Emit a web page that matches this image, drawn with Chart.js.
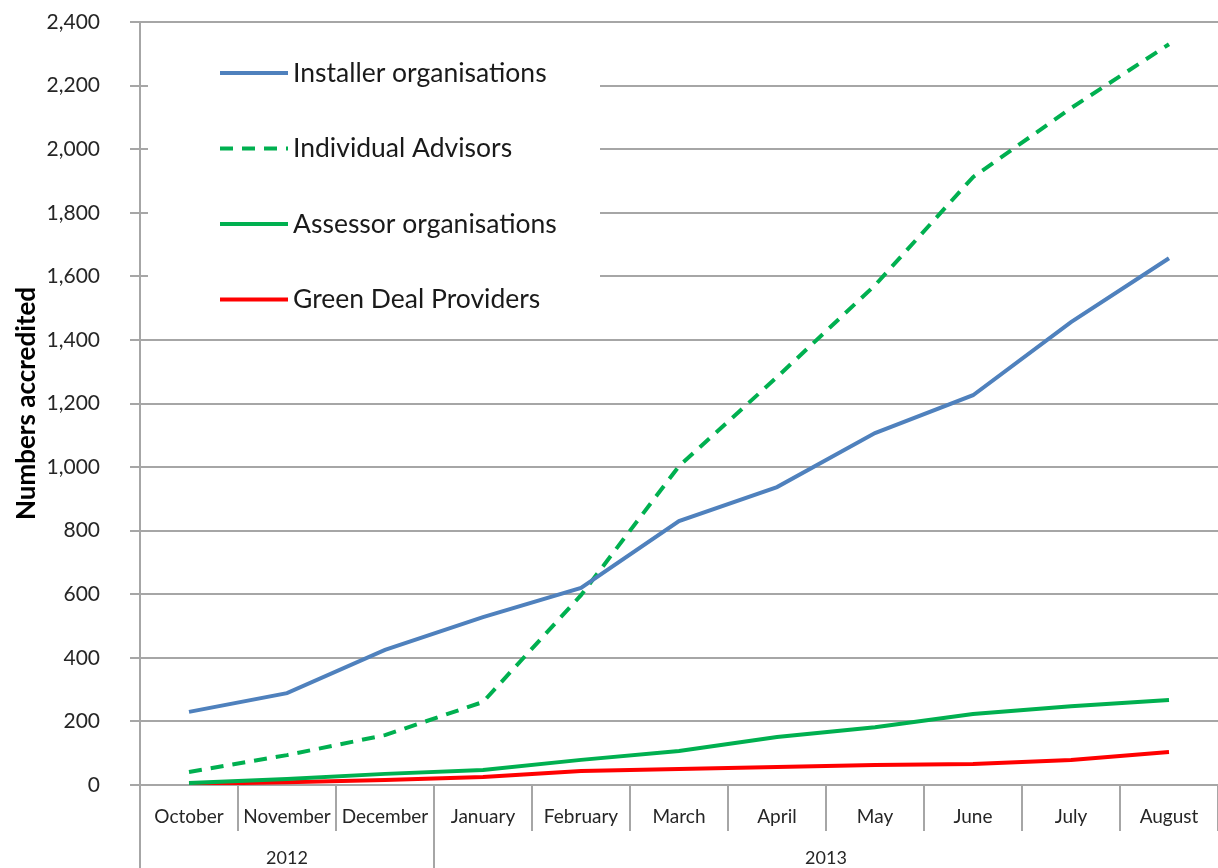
<!DOCTYPE html>
<html>
<head>
<meta charset="utf-8">
<script src="https://cdn.jsdelivr.net/npm/chart.js@4/dist/chart.umd.min.js"></script>
<style>
  html, body { margin: 0; padding: 0; background: #fff; }
  #wrap { width: 1218px; height: 868px; }
</style>
</head>
<body>
<div id="wrap"><canvas id="chart" width="1218" height="868"></canvas></div>
<script>
// months and year groups
const months = ['October', 'November', 'December', 'January', 'February', 'March', 'April', 'May', 'June', 'July', 'August'];
const years = [{ label: '2012', from: 0, to: 2 }, { label: '2013', from: 3, to: 10 }];

// numbers accredited
const installers = [230, 289, 425, 528, 620, 830, 937, 1107, 1226, 1456, 1657];
const advisors = [41, 94, 157, 261, 597, 1003, 1283, 1572, 1912, 2129, 2330];
const assessors = [6, 19, 35, 47, 79, 107, 151, 182, 223, 248, 267];
const providers = [3, 9, 16, 25, 44, 50, 57, 63, 66, 79, 104];

const gridColor = '#a6a6a6';
const textColor = '#262626';
const font = 'Lato, "Open Sans", sans-serif';

// white legend box sitting inside the plot, top left
const boxLegend = {
    id: 'boxLegend',
    beforeDatasetsDraw(chart) {
        const c = chart.ctx;
        const a = chart.chartArea;
        c.save();
        c.fillStyle = '#fff';
        c.fillRect(a.left + 8, a.top + 8, 452, 300);
        c.font = '26.5px ' + font;
        c.textBaseline = 'middle';
        chart.data.datasets.forEach((ds, i) => {
            const y = a.top + 51 + i * 75.5;
            c.beginPath();
            c.strokeStyle = ds.borderColor;
            c.lineWidth = 4;
            c.setLineDash(ds.borderDash || []);
            c.moveTo(a.left + 80, y);
            c.lineTo(a.left + 148, y);
            c.stroke();
            c.setLineDash([]);
            c.fillStyle = '#1a1a1a';
            c.fillText(ds.label, a.left + 153, y);
        });
        c.restore();
    }
};

// category separators and year row below the x axis
const yearAxis = {
    id: 'yearAxis',
    afterDraw(chart) {
        const c = chart.ctx;
        const x = chart.scales.x;
        const a = chart.chartArea;
        const step = x.getPixelForValue(1) - x.getPixelForValue(0);
        const bottom = chart.height;
        c.save();
        c.strokeStyle = gridColor;
        c.lineWidth = 2;
        for (let i = 0; i <= months.length; i++) {
            const px = x.getPixelForValue(0) - step / 2 + i * step;
            const long = i === 0 || years.some(g => g.from === i);
            c.beginPath();
            c.moveTo(px, a.bottom);
            c.lineTo(px, long ? bottom : a.bottom + 46);
            c.stroke();
        }
        c.fillStyle = textColor;
        c.font = '18px ' + font;
        c.textAlign = 'center';
        c.textBaseline = 'middle';
        years.forEach(g => {
            const mid = (x.getPixelForValue(g.from) + x.getPixelForValue(g.to)) / 2;
            c.fillText(g.label, mid, a.bottom + 73);
        });
        c.restore();
    }
};

new Chart(document.getElementById('chart'), {
    type: 'line',
    data: {
        labels: months,
        datasets: [
            { label: 'Installer organisations', data: installers, borderColor: '#4f81bd' },
            { label: 'Individual Advisors', data: advisors, borderColor: '#00b050', borderDash: [13, 9] },
            { label: 'Assessor organisations', data: assessors, borderColor: '#00b050' },
            { label: 'Green Deal Providers', data: providers, borderColor: '#ff0000' }
        ]
    },
    options: {
        responsive: false,
        animation: false,
        layout: { padding: { top: 22, left: 11, right: 0, bottom: 0 } },
        elements: {
            line: { borderWidth: 4, tension: 0, borderCapStyle: 'butt' },
            point: { radius: 0 }
        },
        plugins: {
            legend: { display: false },
            tooltip: { enabled: false }
        },
        scales: {
            x: {
                offset: true,
                grid: { display: false },
                border: { color: gridColor, width: 2 },
                ticks: { color: textColor, font: { family: font, size: 19 }, padding: 12, maxRotation: 0, autoSkip: false },
                afterFit(s) { s.height = 83; }
            },
            y: {
                min: 0,
                max: 2400,
                ticks: { stepSize: 200, color: textColor, font: { family: font, size: 21 }, padding: 30 },
                grid: { color: gridColor, lineWidth: 2, tickLength: 10 },
                border: { color: gridColor, width: 2 },
                title: {
                    display: true,
                    text: 'Numbers accredited',
                    color: '#000',
                    font: { family: font, size: 26, weight: 'bold' },
                    padding: 0
                },
                afterFit(s) {
                    s.width = 129;
                    s.paddingTop = 0;
                    s.paddingBottom = 0;
                }
            }
        }
    },
    plugins: [boxLegend, yearAxis]
});
</script>
</body>
</html>
